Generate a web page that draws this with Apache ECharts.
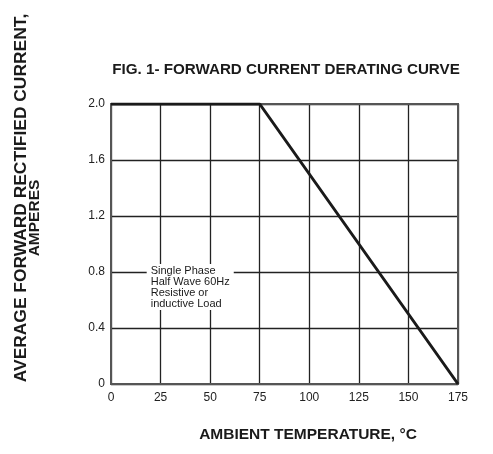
<!DOCTYPE html>
<html>
<head>
<meta charset="utf-8">
<script src="https://cdn.jsdelivr.net/npm/echarts@6/dist/echarts.min.js"></script>
<style>
  html, body { margin: 0; padding: 0; background: #fff; }
  #chart { width: 493px; height: 454px; }
</style>
</head>
<body>
<div id="chart"></div>
<script>
// derating curve
var tempC = [0, 75, 175]
var currentA = [2.0, 2.0, 0]
var yTicks = [0, 0.4, 0.8, 1.2, 1.6, 2.0]
var noteLines = ['Single Phase', 'Half Wave 60Hz', 'Resistive or', 'inductive Load']

var font = '"Liberation Sans", Arial, sans-serif'
var myChart = echarts.init(document.getElementById('chart'))

var points = tempC.map(function (t, i) { return [t, currentA[i]] })

myChart.setOption({
    animation: false,
    backgroundColor: '#fff',
    title: {
        text: 'FIG. 1- FORWARD CURRENT DERATING CURVE',
        left: 281,
        top: 57,
        textAlign: 'center',
        textStyle: { fontFamily: font, fontSize: 15.2, fontWeight: 'bold', color: '#1a1a1a' }
    },
    grid: { left: 111, right: 35, top: 104, bottom: 70 },
    xAxis: {
        type: 'value',
        min: 0, max: 175, interval: 25,
        axisLine: { show: true, lineStyle: { color: '#555', width: 2 } },
        axisTick: { show: false },
        axisLabel: { fontFamily: font, fontSize: 12, color: '#222', margin: 8 },
        splitLine: { show: true, lineStyle: { color: '#222', width: 1.3 } }
    },
    yAxis: {
        type: 'value',
        min: 0, max: 2.0, interval: 0.4,
        axisLine: { show: true, lineStyle: { color: '#555', width: 2 } },
        axisTick: { show: false },
        axisLabel: {
            fontFamily: font, fontSize: 12, color: '#222', margin: 6,
            formatter: function (v) {
                var t = yTicks.find(function (y) { return Math.abs(y - v) < 1e-6 })
                return t === 0 ? '0' : t.toFixed(1)
            }
        },
        splitLine: { show: true, lineStyle: { color: '#222', width: 1.3 } }
    },
    series: [{
        type: 'line',
        data: points,
        symbol: 'none',
        lineStyle: { color: '#1a1a1a', width: 3 },
        z: 5
    }]
})

// outer frame, note box, axis titles
var tl = myChart.convertToPixel({ gridIndex: 0 }, [0, 2.0])
var br = myChart.convertToPixel({ gridIndex: 0 }, [175, 0])
var note = myChart.convertToPixel({ gridIndex: 0 }, [18, 0.8])

myChart.setOption({
    graphic: [
        {
            type: 'rect',
            shape: { x: tl[0], y: tl[1], width: br[0] - tl[0], height: br[1] - tl[1] },
            style: { fill: 'none', stroke: '#555', lineWidth: 2 },
            z: 3
        },
        {
            type: 'text',
            x: note[0], y: note[1] - 8,
            style: {
                text: noteLines.join('\n'),
                font: '11px ' + font,
                fill: '#1a1a1a',
                lineHeight: 11,
                backgroundColor: '#fff',
                padding: [1, 4, 1, 4]
            },
            z: 10
        },
        {
            type: 'text',
            x: 308, y: 435,
            style: {
                text: 'AMBIENT TEMPERATURE, °C',
                font: 'bold 15.5px ' + font,
                fill: '#1a1a1a',
                align: 'center',
                verticalAlign: 'middle'
            }
        },
        {
            type: 'text',
            x: 21, y: 198,
            rotation: Math.PI / 2,
            style: {
                text: 'AVERAGE FORWARD RECTIFIED CURRENT,',
                font: 'bold 17.4px ' + font,
                fill: '#1a1a1a',
                align: 'center',
                verticalAlign: 'middle'
            }
        },
        {
            type: 'text',
            x: 35, y: 218,
            rotation: Math.PI / 2,
            style: {
                text: 'AMPERES',
                font: 'bold 15.5px ' + font,
                fill: '#1a1a1a',
                align: 'center',
                verticalAlign: 'middle'
            }
        }
    ]
})
</script>
</body>
</html>
